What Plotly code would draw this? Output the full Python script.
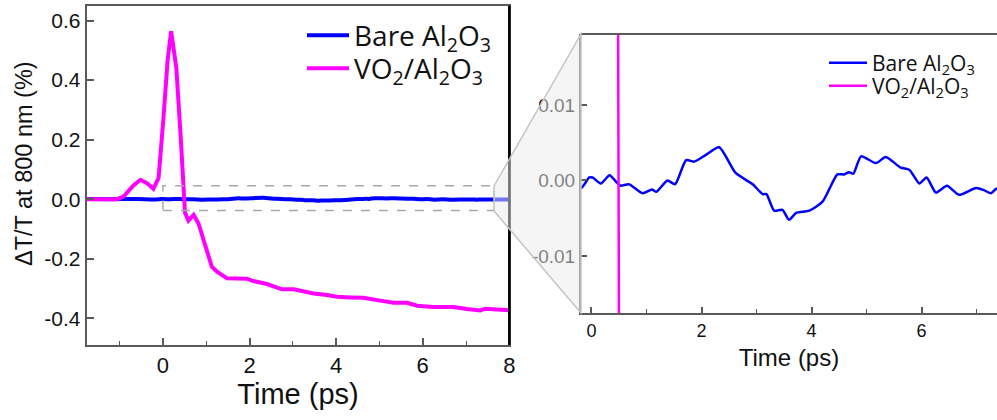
import plotly.graph_objects as go

# ---- data ----
time_bare = [-1.76, -1.2, -0.6, -0.19, -0.04, 0.02, 0.17, 0.33, 0.44, 0.53, 0.68, 0.93, 1.10, 1.18,
             1.38, 1.52, 1.72, 1.87, 2.08, 2.32, 2.62, 2.93, 3.11, 3.18, 3.32, 3.47, 3.59,
             3.72, 3.96, 4.20, 4.47, 4.59, 4.68, 4.76, 4.90, 5.17, 5.35, 5.62, 5.78, 5.96,
             6.09, 6.26, 6.46, 6.68, 6.99, 7.14, 7.26, 7.36, 7.6, 8.0]
bare = [0.0005, 0.0, 0.0003, -0.0010, 0.0004, 0.0004, -0.0004, 0.0007, -0.0001, -0.0007, -0.0005,
        -0.0017, -0.0012, -0.0015, 0.0000, -0.0005, 0.0027, 0.0025, 0.0034, 0.0044, 0.0010,
        -0.0005, -0.0018, -0.0018, -0.0040, -0.0039, -0.0052, -0.0043, -0.0040, -0.0028,
        0.0008, 0.0008, 0.0011, 0.0009, 0.0032, 0.0023, 0.0031, 0.0017, 0.0014, -0.0004,
        0.0004, -0.0016, -0.0007, -0.0019, -0.0010, -0.0013, -0.0017, -0.0011, -0.0012, -0.0008]

time_vo2 = [-1.76, -1.06, -0.91, -0.68, -0.52, -0.37, -0.22, -0.10, 0.01, 0.11, 0.19, 0.31, 0.41,
            0.51, 0.59, 0.71, 0.82, 0.98, 1.13, 1.25, 1.48, 1.94, 2.09, 2.40, 2.75, 3.02, 3.48,
            3.79, 4.02, 4.33, 4.63, 5.02, 5.33, 5.64, 5.87, 6.25, 6.71, 7.02, 7.33, 7.44, 7.71, 8.00]
vo2 = [0.0, 0.0, 0.009, 0.046, 0.065, 0.054, 0.035, 0.071, 0.267, 0.469, 0.564, 0.441, 0.211,
       -0.045, -0.072, -0.053, -0.081, -0.160, -0.227, -0.244, -0.266, -0.267, -0.275, -0.285,
       -0.303, -0.303, -0.317, -0.322, -0.328, -0.330, -0.331, -0.341, -0.348, -0.348, -0.358,
       -0.362, -0.362, -0.369, -0.374, -0.368, -0.370, -0.373]

left_yticks = [-0.4, -0.2, 0.0, 0.2, 0.4, 0.6]
left_yticklabels = ["-0.4", "-0.2", "0.0", "0.2", "0.4", "0.6"]
left_xticks = [0, 2, 4, 6, 8]
right_yticks = [-0.01, 0.0, 0.01]
right_yticklabels = ["-0.01", "0.00", "0.01"]
right_xticks = [0, 2, 4, 6]

name_bare = "Bare Al<sub>2</sub>O<sub>3</sub>"
name_vo2 = "VO<sub>2</sub>/Al<sub>2</sub>O<sub>3</sub>"
y_title = "ΔT/T at 800 nm (%)"

BLUE = "#0000ff"
MAG = "#ff00ff"
AX = "#5a5a5a"
W, H = 997, 420
ARIAL = "Liberation Sans, Arial"

fig = go.Figure()
fig.add_trace(go.Scatter(x=time_bare, y=bare, mode="lines", name=name_bare,
                         line=dict(color=BLUE, width=4, shape="spline", smoothing=0.6),
                         xaxis="x", yaxis="y", legend="legend"))
fig.add_trace(go.Scatter(x=time_vo2, y=vo2, mode="lines", name=name_vo2,
                         line=dict(color=MAG, width=4),
                         xaxis="x", yaxis="y", legend="legend2"))
fig.add_trace(go.Scatter(x=time_bare, y=bare, mode="lines", name=name_bare,
                         line=dict(color=BLUE, width=2.5, shape="spline", smoothing=0.6),
                         xaxis="x2", yaxis="y2", legend="legend3"))
fig.add_trace(go.Scatter(x=time_vo2, y=vo2, mode="lines", name=name_vo2,
                         line=dict(color=MAG, width=2.5),
                         xaxis="x2", yaxis="y2", legend="legend4"))


def px(x):
    return x / W


def py(y):
    return 1 - y / H


def leg(x, y, size, iw):
    return dict(x=px(x), y=py(y), xanchor="left", yanchor="middle",
                bgcolor="rgba(0,0,0,0)", borderwidth=0,
                font=dict(family="Open Sans", size=size, color="#111"), itemwidth=iw)


fig.update_layout(
    width=W, height=H,
    margin=dict(l=0, r=0, t=0, b=0, autoexpand=False),
    paper_bgcolor="white", plot_bgcolor="white",
    font=dict(family=ARIAL, color="#111"),
    xaxis=dict(domain=[px(86.7), px(509.3)], range=[-1.76, 8.0], anchor="y", automargin=False,
               tickvals=left_xticks, ticks="inside", ticklen=7, tickwidth=1.5, tickcolor=AX,
               minor=dict(dtick=1, tick0=1, ticks="inside", ticklen=4, tickwidth=1.2, tickcolor=AX),
               showline=True, linecolor=AX, linewidth=2, mirror=True, showgrid=False, zeroline=False,
               tickfont=dict(family=ARIAL, size=22, color="#111"),
               title=dict(text="Time (ps)", font=dict(family=ARIAL, size=29, color="#111"), standoff=4)),
    yaxis=dict(domain=[py(345), py(5.7)], range=[-0.49, 0.65], anchor="x", automargin=False,
               tickvals=left_yticks, ticktext=left_yticklabels, ticks="inside", ticklen=7,
               tickwidth=1.5, tickcolor=AX, showline=True, linecolor=AX, linewidth=2, mirror=True,
               showgrid=False, zeroline=False, tickfont=dict(family=ARIAL, size=21, color="#111")),
    xaxis2=dict(domain=[px(581), 1.0], range=[-0.19, 7.37], anchor="y2", automargin=False,
                tickvals=right_xticks, ticks="inside", ticklen=6, tickwidth=1.5, tickcolor=AX,
                minor=dict(dtick=1, tick0=1, ticks="inside", ticklen=4, tickwidth=1.2, tickcolor=AX),
                showline=True, linecolor=AX, linewidth=2, showgrid=False, zeroline=False,
                tickfont=dict(family=ARIAL, size=18, color="#111"),
                title=dict(text="Time (ps)", font=dict(family=ARIAL, size=24, color="#111"), standoff=10)),
    yaxis2=dict(domain=[py(313), py(34)], range=[-0.01755, 0.0194], anchor="x2", automargin=False,
                tickvals=right_yticks, ticktext=right_yticklabels, ticks="inside", ticklen=6,
                tickwidth=1.5, tickcolor=AX, showline=True, linecolor=AX, linewidth=2,
                showgrid=False, zeroline=False,
                tickfont=dict(family=ARIAL, size=19, color="#111")),
    legend=leg(302, 35.5, 28, 42),
    legend2=leg(302, 68.5, 28, 42),
    legend3=leg(824, 63, 21, 38),
    legend4=leg(824, 86, 21, 38),
    showlegend=True,
)

# y-axis title of the left panel (placed to match the reference, slightly above centre)
fig.add_annotation(text=y_title, xref="paper", yref="paper", x=px(24), y=py(164),
                   xanchor="center", yanchor="middle", textangle=-90, showarrow=False,
                   font=dict(family=ARIAL, size=23.5, color="#111"))

# right (black) frame line of the left panel
fig.add_shape(type="line", xref="x domain", yref="y domain", x0=1, x1=1, y0=0, y1=1.0,
              line=dict(color="black", width=2.5), layer="above")
# top frame of the right panel
fig.add_shape(type="line", xref="x2 domain", yref="y2 domain", x0=0, x1=1, y0=1, y1=1,
              line=dict(color=AX, width=2), layer="above")

# dashed zoom box (data coords of left panel)
fig.add_shape(type="rect", xref="x", yref="y", x0=0.0, x1=7.65, y0=-0.038, y1=0.045,
              line=dict(color="#a8a8a8", width=1.5, dash="dash"), fillcolor="rgba(0,0,0,0)",
              layer="above")

# connecting cone
cone = (f"M {px(494)},{py(186)} L {px(581)},{py(34)} L {px(581)},{py(313)} "
        f"L {px(494)},{py(211)} Z")
fig.add_shape(type="path", xref="paper", yref="paper", path=cone,
              fillcolor="rgba(236,236,236,0.5)", line=dict(color="#c4c4c4", width=1.5),
              layer="above")

fig.write_html("out.html", config={"displayModeBar": False},
               post_script="document.body.style.margin='0px';")
